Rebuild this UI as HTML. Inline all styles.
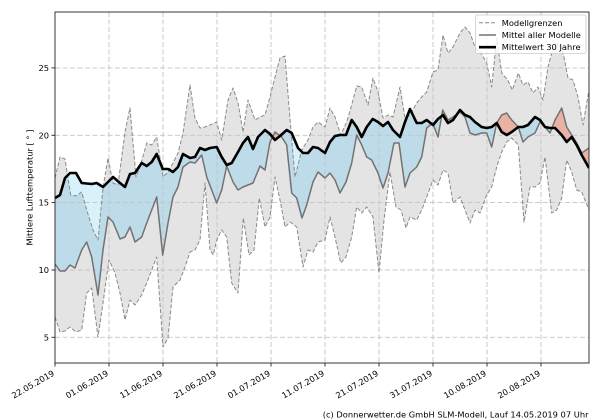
<!DOCTYPE html>
<html>
<head>
<meta charset="utf-8">
<style>
html,body{margin:0;padding:0;background:#fff;}
svg{display:block;}
text{font-family:"DejaVu Sans","Liberation Sans",sans-serif;font-size:8.3px;fill:#000;}
</style>
</head>
<body>
<svg width="600" height="420" viewBox="0 0 600 420" xmlns="http://www.w3.org/2000/svg">
<rect x="0" y="0" width="600" height="420" fill="#fff"/>
<defs>
<clipPath id="ax"><rect x="55" y="12" width="534" height="351"/></clipPath>
<clipPath id="belowU"><polygon points="55,178 60,157 65,159 70.7,195 76,196 81.7,192 86.7,210 93,230 98,240 103,188 108,158 113,183 118,185 125,132 130,108 136,177 140,167 146.7,143 151.7,145 156.7,137 163,177 168,172 173,163 178,153 183,133 190,85 195,118 200,128 205,127 210,125 216.7,122 221.7,140 228,100 233,88 238,103 243,132 248,100 255,120 260,117 265,115 270,97 275,77 280,58 285,56 291.7,140 295,177 301.7,150 308,140 313,127 318,122 325,127 330,108 335,117 340.7,135 346.7,122 351.7,105 356.7,86 361.7,87 368,105 373,78 378,92 383,118 388,115 393,117 400,87 405,118 410,115 416.7,103 421.7,97 426.7,92 433,72 438,70 443,35 448,53 453,47 460,33 465,27 470,33 475,47 481,53 486.7,63 491.7,87 496.7,38 501.7,73 507.7,80 512.3,90 518.3,73 523,85 528,82 533,93 538,87 543,100 548,67 553,48 558,43 563,52 568,78 573,80 578,97 583,125 589,90 589,363 55,363"/></clipPath>
<clipPath id="aboveL"><polygon points="55,317 60,332 65,331 70,327 76,332 81.7,330 86.7,293 91.7,288 98,337 103,303 109,260 115,273 120,293 125,320 130,300 135,305 141.7,295 146.7,283 151.7,270 156.7,257 163,347 168,338 173,287 180,280 185,267 190,252 195,250 200,240 205,183 210,250 213.3,255 216.7,240 221.7,230 226.7,237 231.7,283 238,293 243.3,218 249,255 254,250 259.3,198 265,227 270,217 275,177 280,200 285,227 290,222 296.7,227 303,267 308,250 313,252 318,242 325,240 330,217 335,237 340.7,263 346,257 351.7,237 356.7,207 361.7,213 366.7,207 373,217 379,273 384,220 390,172 396,207 401,210 406,228 410,217 416.7,220 421.7,210 426.7,197 433,180 438,185 443,170 448,173 453,203 460,197 465,210 470,223 475,210 480,213 486.7,195 491.7,187 496.7,167 501.7,152 506.7,142 511.7,138 518.3,145 524,222 530,187 535,187 540,183 545,157 551.7,213 556.7,210 561.7,198 566.7,160 571.7,172 576.7,190 581.7,192 589,210 589,12 55,12"/></clipPath>
<clipPath id="aboveM"><polygon points="55,264 60,271 65,271 70,265 75,268 81.7,250 86.7,242 91.7,257 98,295 103,250 108,217 113,222 120,239 125,237 130,227 135,242 141.7,237 146.7,223 151.7,210 156.7,197 162.7,255 168,223 173,197 178,187 183,167 190,162 195,163 201.7,155 206.7,177 211.7,190 216.7,203 221.7,190 226.7,166 233,182 238,190 243,187 248,185 253,183 260,166 265,170 270,142 275,132 281.7,137 286.7,145 291.7,193 296.7,198 302,218 306.7,205 313,182 318,172 325,178 330,173 335,180 340,193 346,182 351.7,163 356.7,135 361.7,145 366.7,157 371.7,160 378,173 383,188 388,173 394,143 399,143 405,187 410,173 416.7,167 421.7,157 426.7,128 432.7,123 438,137 442.7,110 448,120 453,117 460,112 465,117 470,133 475,135 481.7,133 486.7,133 491.7,147 496.7,123 501.7,115 506.7,113 511.7,120 518.3,127 523,142 528,137 535,133 540,122 545,127 550,133 555,120 561.7,108 566.7,127 571.7,135 576.7,143 581.7,153 589,148 589,12 55,12"/></clipPath>
<clipPath id="belowM"><polygon points="55,264 60,271 65,271 70,265 75,268 81.7,250 86.7,242 91.7,257 98,295 103,250 108,217 113,222 120,239 125,237 130,227 135,242 141.7,237 146.7,223 151.7,210 156.7,197 162.7,255 168,223 173,197 178,187 183,167 190,162 195,163 201.7,155 206.7,177 211.7,190 216.7,203 221.7,190 226.7,166 233,182 238,190 243,187 248,185 253,183 260,166 265,170 270,142 275,132 281.7,137 286.7,145 291.7,193 296.7,198 302,218 306.7,205 313,182 318,172 325,178 330,173 335,180 340,193 346,182 351.7,163 356.7,135 361.7,145 366.7,157 371.7,160 378,173 383,188 388,173 394,143 399,143 405,187 410,173 416.7,167 421.7,157 426.7,128 432.7,123 438,137 442.7,110 448,120 453,117 460,112 465,117 470,133 475,135 481.7,133 486.7,133 491.7,147 496.7,123 501.7,115 506.7,113 511.7,120 518.3,127 523,142 528,137 535,133 540,122 545,127 550,133 555,120 561.7,108 566.7,127 571.7,135 576.7,143 581.7,153 589,148 589,363 55,363"/></clipPath>
</defs>

<g clip-path="url(#ax)">
  <polygon clip-path="url(#aboveM)" fill="#d9f1fb" points="55,198 60,195 65,178 70,173 76,173 81.7,183 91.7,184 96.7,183 103,187 108,182 113,177 120,183 125,187 130,174 135,173 141.7,163 146.7,166 151.7,162 156.7,154 162.7,169 168,169 173,172 178,167 183,154 190,158 195,157 200,148 205,150 210,148 216.7,147 221.7,157 226.7,165 231.7,163 238,152 243,143 248,137 253,149 258,137 265,130 270,134 275,140 280,136 286.7,130 291.7,133 298,148 303,153 308,153 313,147 318,148 325,153 330,142 335,136 340,135 346,135 351.7,120 356.7,127 361.7,137 366.7,127 372.7,119 378,122 383,126 388,122 393,130 400,137 405,122 410,109 416.7,123 421.7,123 426.7,120 433,125 438,119 443,115 448,123 453,120 460,110 465,115 470,117 475,122 481.7,127 486.7,128 491.7,127 496.7,123 501.7,132 506.7,135 511.7,132 518.3,127 523,127 528,125 535,117 540,120 545,127 550,128 555,128 561.7,135 566.7,142 571.7,137 576.7,145 581.7,155 589,168 589,363 55,363"/>
  <g clip-path="url(#belowU)">
    <polygon clip-path="url(#aboveL)" fill="#e4e4e4" points="55,12 589,12 589,363 55,363"/>
  </g>
  <g clip-path="url(#belowU)">
    <g clip-path="url(#aboveL)">
      <polygon clip-path="url(#aboveM)" fill="#bddbe8" points="55,198 60,195 65,178 70,173 76,173 81.7,183 91.7,184 96.7,183 103,187 108,182 113,177 120,183 125,187 130,174 135,173 141.7,163 146.7,166 151.7,162 156.7,154 162.7,169 168,169 173,172 178,167 183,154 190,158 195,157 200,148 205,150 210,148 216.7,147 221.7,157 226.7,165 231.7,163 238,152 243,143 248,137 253,149 258,137 265,130 270,134 275,140 280,136 286.7,130 291.7,133 298,148 303,153 308,153 313,147 318,148 325,153 330,142 335,136 340,135 346,135 351.7,120 356.7,127 361.7,137 366.7,127 372.7,119 378,122 383,126 388,122 393,130 400,137 405,122 410,109 416.7,123 421.7,123 426.7,120 433,125 438,119 443,115 448,123 453,120 460,110 465,115 470,117 475,122 481.7,127 486.7,128 491.7,127 496.7,123 501.7,132 506.7,135 511.7,132 518.3,127 523,127 528,125 535,117 540,120 545,127 550,128 555,128 561.7,135 566.7,142 571.7,137 576.7,145 581.7,155 589,168 589,363 55,363"/>
    </g>
  </g>
  <polygon clip-path="url(#belowM)" fill="#e9b2a5" points="55,198 60,195 65,178 70,173 76,173 81.7,183 91.7,184 96.7,183 103,187 108,182 113,177 120,183 125,187 130,174 135,173 141.7,163 146.7,166 151.7,162 156.7,154 162.7,169 168,169 173,172 178,167 183,154 190,158 195,157 200,148 205,150 210,148 216.7,147 221.7,157 226.7,165 231.7,163 238,152 243,143 248,137 253,149 258,137 265,130 270,134 275,140 280,136 286.7,130 291.7,133 298,148 303,153 308,153 313,147 318,148 325,153 330,142 335,136 340,135 346,135 351.7,120 356.7,127 361.7,137 366.7,127 372.7,119 378,122 383,126 388,122 393,130 400,137 405,122 410,109 416.7,123 421.7,123 426.7,120 433,125 438,119 443,115 448,123 453,120 460,110 465,115 470,117 475,122 481.7,127 486.7,128 491.7,127 496.7,123 501.7,132 506.7,135 511.7,132 518.3,127 523,127 528,125 535,117 540,120 545,127 550,128 555,128 561.7,135 566.7,142 571.7,137 576.7,145 581.7,155 589,168 589,12 55,12"/>

  <g stroke="#c4c4c4" stroke-width="0.9" stroke-dasharray="5 2.5" fill="none">
    <line x1="55" y1="67.9" x2="589" y2="67.9"/>
    <line x1="55" y1="135.3" x2="589" y2="135.3"/>
    <line x1="55" y1="202.6" x2="589" y2="202.6"/>
    <line x1="55" y1="270" x2="589" y2="270"/>
    <line x1="55" y1="337.3" x2="589" y2="337.3"/>
    <line x1="109" y1="12" x2="109" y2="363"/>
    <line x1="163" y1="12" x2="163" y2="363"/>
    <line x1="217" y1="12" x2="217" y2="363"/>
    <line x1="271" y1="12" x2="271" y2="363"/>
    <line x1="325" y1="12" x2="325" y2="363"/>
    <line x1="379" y1="12" x2="379" y2="363"/>
    <line x1="433" y1="12" x2="433" y2="363"/>
    <line x1="487" y1="12" x2="487" y2="363"/>
    <line x1="541" y1="12" x2="541" y2="363"/>
  </g>

  <g fill="none" stroke="#8a8a8a" stroke-width="1" stroke-dasharray="4 2" stroke-linejoin="round">
    <polyline points="55,178 60,157 65,159 70.7,195 76,196 81.7,192 86.7,210 93,230 98,240 103,188 108,158 113,183 118,185 125,132 130,108 136,177 140,167 146.7,143 151.7,145 156.7,137 163,177 168,172 173,163 178,153 183,133 190,85 195,118 200,128 205,127 210,125 216.7,122 221.7,140 228,100 233,88 238,103 243,132 248,100 255,120 260,117 265,115 270,97 275,77 280,58 285,56 291.7,140 295,177 301.7,150 308,140 313,127 318,122 325,127 330,108 335,117 340.7,135 346.7,122 351.7,105 356.7,86 361.7,87 368,105 373,78 378,92 383,118 388,115 393,117 400,87 405,118 410,115 416.7,103 421.7,97 426.7,92 433,72 438,70 443,35 448,53 453,47 460,33 465,27 470,33 475,47 481,53 486.7,63 491.7,87 496.7,38 501.7,73 507.7,80 512.3,90 518.3,73 523,85 528,82 533,93 538,87 543,100 548,67 553,48 558,43 563,52 568,78 573,80 578,97 583,125 589,90"/>
    <polyline points="55,317 60,332 65,331 70,327 76,332 81.7,330 86.7,293 91.7,288 98,337 103,303 109,260 115,273 120,293 125,320 130,300 135,305 141.7,295 146.7,283 151.7,270 156.7,257 163,347 168,338 173,287 180,280 185,267 190,252 195,250 200,240 205,183 210,250 213.3,255 216.7,240 221.7,230 226.7,237 231.7,283 238,293 243.3,218 249,255 254,250 259.3,198 265,227 270,217 275,177 280,200 285,227 290,222 296.7,227 303,267 308,250 313,252 318,242 325,240 330,217 335,237 340.7,263 346,257 351.7,237 356.7,207 361.7,213 366.7,207 373,217 379,273 384,220 390,172 396,207 401,210 406,228 410,217 416.7,220 421.7,210 426.7,197 433,180 438,185 443,170 448,173 453,203 460,197 465,210 470,223 475,210 480,213 486.7,195 491.7,187 496.7,167 501.7,152 506.7,142 511.7,138 518.3,145 524,222 530,187 535,187 540,183 545,157 551.7,213 556.7,210 561.7,198 566.7,160 571.7,172 576.7,190 581.7,192 589,210"/>
  </g>
  <polyline fill="none" stroke="#737373" stroke-width="1.5" stroke-linejoin="round" points="55,264 60,271 65,271 70,265 75,268 81.7,250 86.7,242 91.7,257 98,295 103,250 108,217 113,222 120,239 125,237 130,227 135,242 141.7,237 146.7,223 151.7,210 156.7,197 162.7,255 168,223 173,197 178,187 183,167 190,162 195,163 201.7,155 206.7,177 211.7,190 216.7,203 221.7,190 226.7,166 233,182 238,190 243,187 248,185 253,183 260,166 265,170 270,142 275,132 281.7,137 286.7,145 291.7,193 296.7,198 302,218 306.7,205 313,182 318,172 325,178 330,173 335,180 340,193 346,182 351.7,163 356.7,135 361.7,145 366.7,157 371.7,160 378,173 383,188 388,173 394,143 399,143 405,187 410,173 416.7,167 421.7,157 426.7,128 432.7,123 438,137 442.7,110 448,120 453,117 460,112 465,117 470,133 475,135 481.7,133 486.7,133 491.7,147 496.7,123 501.7,115 506.7,113 511.7,120 518.3,127 523,142 528,137 535,133 540,122 545,127 550,133 555,120 561.7,108 566.7,127 571.7,135 576.7,143 581.7,153 589,148"/>
  <polyline fill="none" stroke="#000" stroke-width="2.6" stroke-linejoin="round" points="55,198 60,195 65,178 70,173 76,173 81.7,183 91.7,184 96.7,183 103,187 108,182 113,177 120,183 125,187 130,174 135,173 141.7,163 146.7,166 151.7,162 156.7,154 162.7,169 168,169 173,172 178,167 183,154 190,158 195,157 200,148 205,150 210,148 216.7,147 221.7,157 226.7,165 231.7,163 238,152 243,143 248,137 253,149 258,137 265,130 270,134 275,140 280,136 286.7,130 291.7,133 298,148 303,153 308,153 313,147 318,148 325,153 330,142 335,136 340,135 346,135 351.7,120 356.7,127 361.7,137 366.7,127 372.7,119 378,122 383,126 388,122 393,130 400,137 405,122 410,109 416.7,123 421.7,123 426.7,120 433,125 438,119 443,115 448,123 453,120 460,110 465,115 470,117 475,122 481.7,127 486.7,128 491.7,127 496.7,123 501.7,132 506.7,135 511.7,132 518.3,127 523,127 528,125 535,117 540,120 545,127 550,128 555,128 561.7,135 566.7,142 571.7,137 576.7,145 581.7,155 589,168"/>
</g>

<rect x="55" y="12" width="534" height="351" fill="none" stroke="#222" stroke-width="0.9"/>

<g stroke="#222" stroke-width="0.9">
  <line x1="51.5" y1="67.9" x2="55" y2="67.9"/>
  <line x1="51.5" y1="135.3" x2="55" y2="135.3"/>
  <line x1="51.5" y1="202.6" x2="55" y2="202.6"/>
  <line x1="51.5" y1="270" x2="55" y2="270"/>
  <line x1="51.5" y1="337.3" x2="55" y2="337.3"/>
  <line x1="55" y1="363" x2="55" y2="366.5"/>
  <line x1="109" y1="363" x2="109" y2="366.5"/>
  <line x1="163" y1="363" x2="163" y2="366.5"/>
  <line x1="217" y1="363" x2="217" y2="366.5"/>
  <line x1="271" y1="363" x2="271" y2="366.5"/>
  <line x1="325" y1="363" x2="325" y2="366.5"/>
  <line x1="379" y1="363" x2="379" y2="366.5"/>
  <line x1="433" y1="363" x2="433" y2="366.5"/>
  <line x1="487" y1="363" x2="487" y2="366.5"/>
  <line x1="541" y1="363" x2="541" y2="366.5"/>
</g>
<g text-anchor="end">
  <text x="49" y="70.9">25</text>
  <text x="49" y="138.3">20</text>
  <text x="49" y="205.6">15</text>
  <text x="49" y="273">10</text>
  <text x="49" y="340.3">5</text>
</g>

<g text-anchor="end">
  <text transform="translate(55,375) rotate(-30)">22.05.2019</text>
  <text transform="translate(109,375) rotate(-30)">01.06.2019</text>
  <text transform="translate(163,375) rotate(-30)">11.06.2019</text>
  <text transform="translate(217,375) rotate(-30)">21.06.2019</text>
  <text transform="translate(271,375) rotate(-30)">01.07.2019</text>
  <text transform="translate(325,375) rotate(-30)">11.07.2019</text>
  <text transform="translate(379,375) rotate(-30)">21.07.2019</text>
  <text transform="translate(433,375) rotate(-30)">31.07.2019</text>
  <text transform="translate(487,375) rotate(-30)">10.08.2019</text>
  <text transform="translate(541,375) rotate(-30)">20.08.2019</text>
</g>

<text transform="translate(32.5,187.5) rotate(-90)" text-anchor="middle">Mittlere Lufttemperatur [ ° ]</text>

<rect x="475.5" y="15" width="110.5" height="38.5" rx="2" ry="2" fill="#fff" fill-opacity="0.8" stroke="#cccccc" stroke-width="0.8"/>
<line x1="479" y1="22.8" x2="496" y2="22.8" stroke="#8a8a8a" stroke-width="1" stroke-dasharray="4 2"/>
<line x1="479" y1="35" x2="496" y2="35" stroke="#737373" stroke-width="1.5"/>
<line x1="479" y1="47.2" x2="496" y2="47.2" stroke="#000" stroke-width="2.6"/>
<text x="501.7" y="25.8">Modellgrenzen</text>
<text x="501.7" y="38">Mittel aller Modelle</text>
<text x="501.7" y="50.2">Mittelwert 30 Jahre</text>

<text x="588.5" y="417.3" text-anchor="end">(c) Donnerwetter.de GmbH SLM-Modell, Lauf 14.05.2019 07 Uhr</text>
</svg>
</body>
</html>
